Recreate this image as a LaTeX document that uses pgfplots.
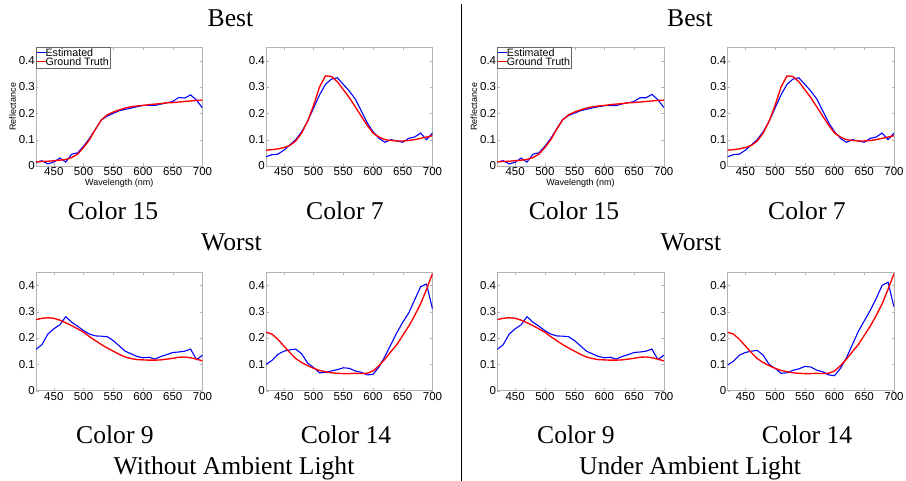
\documentclass[border=0pt]{standalone}
\usepackage{pgfplots}
\pgfplotsset{compat=1.18}
\usepackage{pgfplotstable}
\usepackage{fontspec}
\setmainfont{Liberation Serif}
\newfontfamily\arial{Liberation Sans}

% Color 15 (left)
\pgfplotstableread{
wl est gt
420 0.014 0.016
430 0.020 0.017
440 0.008 0.018
450 0.015 0.020
460 0.030 0.022
470 0.015 0.025
480 0.045 0.032
490 0.050 0.045
500 0.075 0.070
510 0.105 0.100
520 0.140 0.140
530 0.175 0.175
540 0.190 0.195
550 0.200 0.205
560 0.210 0.213
570 0.215 0.220
580 0.220 0.225
590 0.225 0.228
600 0.230 0.230
610 0.230 0.233
620 0.230 0.235
630 0.235 0.237
640 0.240 0.240
650 0.245 0.241
660 0.260 0.243
670 0.258 0.245
680 0.270 0.247
690 0.250 0.249
700 0.220 0.250
}\cA
% Color 15 (right)
\pgfplotstableread{
wl est gt
420 0.015 0.016
430 0.020 0.017
440 0.008 0.018
450 0.014 0.020
460 0.030 0.022
470 0.015 0.025
480 0.045 0.032
490 0.050 0.045
500 0.075 0.070
510 0.105 0.100
520 0.142 0.140
530 0.177 0.175
540 0.192 0.195
550 0.201 0.205
560 0.210 0.213
570 0.215 0.220
580 0.221 0.225
590 0.225 0.228
600 0.229 0.230
610 0.230 0.233
620 0.229 0.235
630 0.236 0.237
640 0.240 0.240
650 0.245 0.241
660 0.259 0.243
670 0.259 0.245
680 0.272 0.247
690 0.252 0.249
700 0.222 0.250
}\cAr
% Color 7
\pgfplotstableread{
wl est gt
420 0.035 0.060
430 0.043 0.062
440 0.045 0.065
450 0.060 0.070
460 0.080 0.078
470 0.100 0.095
480 0.130 0.125
490 0.170 0.170
500 0.220 0.230
510 0.270 0.300
520 0.310 0.342
530 0.330 0.340
540 0.335 0.320
550 0.310 0.290
560 0.285 0.260
570 0.255 0.225
580 0.210 0.190
590 0.165 0.155
600 0.130 0.125
610 0.105 0.110
620 0.090 0.100
630 0.100 0.097
640 0.095 0.095
650 0.090 0.095
660 0.105 0.097
670 0.110 0.100
680 0.125 0.105
690 0.100 0.110
700 0.125 0.115
}\cB
% Color 9
\pgfplotstableread{
wl est gt
420 0.157 0.270
430 0.175 0.275
440 0.215 0.277
450 0.235 0.275
460 0.250 0.268
470 0.281 0.258
480 0.260 0.247
490 0.245 0.235
500 0.228 0.222
510 0.215 0.205
520 0.208 0.190
530 0.207 0.175
540 0.205 0.162
550 0.190 0.150
560 0.170 0.138
570 0.150 0.128
580 0.140 0.122
590 0.130 0.118
600 0.125 0.117
610 0.127 0.116
620 0.120 0.116
630 0.130 0.117
640 0.137 0.120
650 0.145 0.123
660 0.147 0.127
670 0.150 0.128
680 0.158 0.125
690 0.118 0.120
700 0.135 0.113
}\cC
% Color 14 (left)
\pgfplotstableread{
wl est gt
420 0.100 0.222
430 0.115 0.215
440 0.138 0.195
450 0.150 0.170
460 0.155 0.145
470 0.158 0.122
480 0.140 0.107
490 0.105 0.095
500 0.088 0.085
510 0.068 0.077
520 0.070 0.072
530 0.075 0.068
540 0.080 0.066
550 0.087 0.065
560 0.085 0.065
570 0.075 0.066
580 0.070 0.065
590 0.060 0.066
600 0.062 0.075
610 0.090 0.095
620 0.130 0.120
630 0.175 0.148
640 0.220 0.175
650 0.260 0.210
660 0.295 0.245
670 0.345 0.285
680 0.395 0.330
690 0.405 0.385
700 0.310 0.445
}\cD
% Color 14 (right)
\pgfplotstableread{
wl est gt
420 0.097 0.222
430 0.112 0.215
440 0.135 0.195
450 0.145 0.170
460 0.150 0.145
470 0.153 0.122
480 0.135 0.107
490 0.100 0.095
500 0.085 0.085
510 0.066 0.077
520 0.068 0.072
530 0.077 0.068
540 0.083 0.066
550 0.092 0.065
560 0.090 0.065
570 0.078 0.066
580 0.072 0.065
590 0.060 0.066
600 0.057 0.075
610 0.085 0.095
620 0.125 0.120
630 0.175 0.148
640 0.225 0.175
650 0.265 0.210
660 0.305 0.245
670 0.350 0.285
680 0.400 0.330
690 0.412 0.385
700 0.318 0.445
}\cDr

\newcommand\legline[1]{{\color{#1}\rule[0.27em]{8.5pt}{1.6pt}}}

\pgfplotsset{
 spec/.style={
  scale only axis, width=166.5pt, height=118.5pt,
  xmin=420, xmax=700, ymin=0, ymax=0.45,
  xtick={450,500,550,600,650,700}, ytick={0,0.1,0.2,0.3,0.4},
  axis line style={black!30}, tick style={black!30}, major tick length=2.5pt,
  tick align=inside,
  ticklabel style={font=\arial\fontsize{11.5}{12}\selectfont},
  /pgf/number format/assume math mode=true,
  yticklabel style={/pgf/number format/fixed,/pgf/number format/precision=1, inner sep=1pt},
  xticklabel style={inner sep=1.5pt, /pgf/number format/set thousands separator={}},
  anchor=south west,
 },
 labs/.style={
  xlabel={Wavelength (nm)}, ylabel={Reflectance},
  label style={font=\arial\fontsize{9}{10}\selectfont},
  xlabel style={at={(axis description cs:0.5,-0.145)}, anchor=center},
  ylabel style={at={(axis description cs:-0.14,0.5)}, anchor=center},
  legend style={at={(0,1)}, anchor=north west, draw=black!60,
    font=\arial\fontsize{10.7}{11}\selectfont, inner sep=0.3pt, row sep=-1.5pt,
    column sep=0pt, nodes={inner sep=0.6pt}},
  legend cell align=left,
  legend image code/.code={},
 },
 est/.style={color=blue, line width=1.1pt},
 gt/.style={color=red, line width=1.35pt},
}

\begin{document}
\begin{tikzpicture}
\useasboundingbox (0pt,0pt) rectangle (906pt,481pt);
\draw[line width=0.9pt] (461pt,0pt) -- (461pt,477pt);

% ---------- left half ----------
\begin{axis}[spec, labs, at={(36pt,315pt)}]
\addplot[est] table[x=wl,y=est] {\cA};
\addlegendentry{\legline{blue}Estimated}
\addplot[gt] table[x=wl,y=gt] {\cA};
\addlegendentry{\legline{red}Ground Truth}
\end{axis}
\begin{axis}[spec, at={(266pt,315pt)}]
\addplot[est] table[x=wl,y=est] {\cB};
\addplot[gt] table[x=wl,y=gt] {\cB};
\end{axis}
\begin{axis}[spec, at={(36pt,90.3pt)}]
\addplot[est] table[x=wl,y=est] {\cC};
\addplot[gt] table[x=wl,y=gt] {\cC};
\end{axis}
\begin{axis}[spec, at={(266pt,90.3pt)}]
\addplot[est] table[x=wl,y=est] {\cD};
\addplot[gt] table[x=wl,y=gt] {\cD};
\end{axis}

% ---------- right half ----------
\begin{axis}[spec, labs, at={(497.3pt,315pt)}]
\addplot[est] table[x=wl,y=est] {\cAr};
\addlegendentry{\legline{blue}Estimated}
\addplot[gt] table[x=wl,y=gt] {\cAr};
\addlegendentry{\legline{red}Ground Truth}
\end{axis}
\begin{axis}[spec, at={(727.5pt,315pt)}]
\addplot[est] table[x=wl,y=est] {\cB};
\addplot[gt] table[x=wl,y=gt] {\cB};
\end{axis}
\begin{axis}[spec, at={(497.3pt,90.3pt)}]
\addplot[est] table[x=wl,y=est] {\cC};
\addplot[gt] table[x=wl,y=gt] {\cC};
\end{axis}
\begin{axis}[spec, at={(727.5pt,90.3pt)}]
\addplot[est] table[x=wl,y=est] {\cDr};
\addplot[gt] table[x=wl,y=gt] {\cDr};
\end{axis}

\begin{scope}[every node/.style={anchor=base, inner sep=0pt, font=\fontsize{25.6}{30}\selectfont}]
\node at (230.5pt,454.5pt) {Best};
\node at (690pt,454.5pt) {Best};
\node at (113pt,261pt) {Color 15};
\node at (574pt,261pt) {Color 15};
\node at (345pt,261pt) {Color 7};
\node at (807pt,261pt) {Color 7};
\node at (231.5pt,230.5pt) {Worst};
\node at (691pt,230.5pt) {Worst};
\node at (115pt,37.5pt) {Color 9};
\node at (576pt,37.5pt) {Color 9};
\node at (346pt,37.5pt) {Color 14};
\node at (807pt,37.5pt) {Color 14};
\node at (234pt,6.5pt) {Without Ambient Light};
\node at (690pt,6.5pt) {Under Ambient Light};
\end{scope}
\end{tikzpicture}
\end{document}
